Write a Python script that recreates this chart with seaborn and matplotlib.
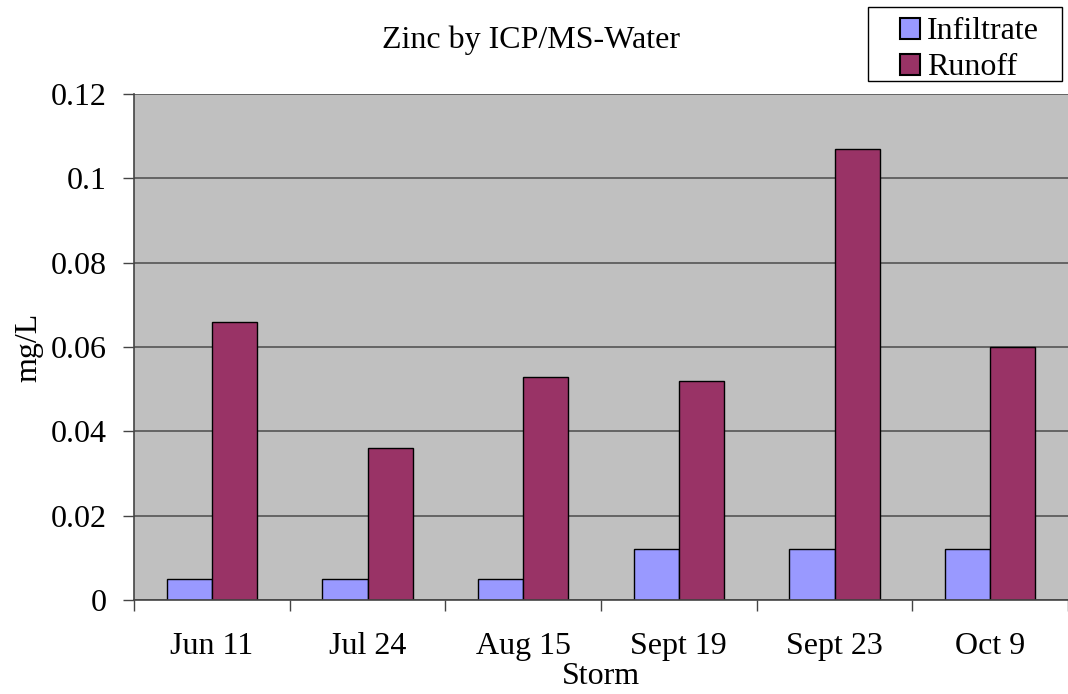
import pandas as pd
import numpy as np
import matplotlib
matplotlib.use("Agg")
import matplotlib.pyplot as plt
import matplotlib.patches as mpatches
import seaborn as sns

# data
storms = ['Jun 11', 'Jul 24', 'Aug 15', 'Sept 19', 'Sept 23', 'Oct 9']
infiltrate = [0.005, 0.005, 0.005, 0.012, 0.012, 0.012]
runoff = [0.066, 0.036, 0.053, 0.052, 0.107, 0.060]

df = pd.DataFrame({'Storm': storms, 'Infiltrate': infiltrate, 'Runoff': runoff})
df_long = df.melt('Storm', var_name='Series', value_name='mg/L')

sns.set_theme(style="white")
plt.rcParams['font.family'] = ['Liberation Serif', 'DejaVu Serif']
plt.rcParams['text.color'] = 'black'
plt.rcParams['xtick.color'] = '#444444'
plt.rcParams['ytick.color'] = '#444444'
plt.rcParams['xtick.labelcolor'] = 'black'
plt.rcParams['ytick.labelcolor'] = 'black'
plt.rcParams['axes.labelcolor'] = 'black'

fig = plt.figure(figsize=(10.68, 6.94), dpi=100)
ax = fig.add_axes([0.1255, 0.1354, 0.8745, 0.7292])
ax.set_facecolor('#C0C0C0')

sns.barplot(data=df_long, x='Storm', y='mg/L', hue='Series',
            palette={'Infiltrate': '#9999FF', 'Runoff': '#993366'}, saturation=1,
            width=0.58, edgecolor='black', linewidth=1, ax=ax, legend=True)

ax.set_ylim(0, 0.12)
ax.set_xlim(-0.5, len(storms) - 0.5)
ax.set_yticks(np.arange(0, 0.121, 0.02))
ax.set_yticklabels(['0', '0.02', '0.04', '0.06', '0.08', '0.1', '0.12'])
ax.yaxis.grid(True, color='#555555', linewidth=1.2)
ax.set_axisbelow(True)

# tick marks between categories, labels at centres
ax.set_xticks(np.arange(-0.5, len(storms), 1.0), minor=True)
ax.tick_params(axis='x', which='major', bottom=True, length=0, pad=23, labelsize=23)
ax.tick_params(axis='x', which='minor', bottom=True, length=8, width=1, direction='out')
ax.tick_params(axis='y', left=True, length=8, width=1, direction='out', labelsize=23, pad=12)

for side in ['top', 'right']:
    ax.spines[side].set_visible(False)
for side in ['left', 'bottom']:
    ax.spines[side].set_color('#444444')
    ax.spines[side].set_linewidth(1.2)

ax.set_xlabel('Storm', fontsize=23, labelpad=1)
ax.set_ylabel('mg/L', fontsize=23, labelpad=5)
fig.text(0.497, 0.942, 'Zinc by ICP/MS-Water', ha='center', va='center', fontsize=23)

# legend without its own frame; a plain box is drawn around it
handles, labels = ax.get_legend_handles_labels()
ax.legend(handles, labels, loc='upper left', bbox_to_anchor=(0.8427, 0.975),
          bbox_transform=fig.transFigure, fontsize=23, frameon=False,
          handlelength=0.625, handleheight=0.625, handletextpad=0.22,
          borderpad=0, labelspacing=0.22, borderaxespad=0)
for h in ax.get_legend().legend_handles:
    h.set_edgecolor('black')
    h.set_linewidth(1.5)
fig.patches.append(mpatches.Rectangle((0.8127, 0.8833), 0.1816, 0.1066,
                                      transform=fig.transFigure, fill=False,
                                      edgecolor='black', linewidth=1))

fig.savefig('out.png', dpi=100)
